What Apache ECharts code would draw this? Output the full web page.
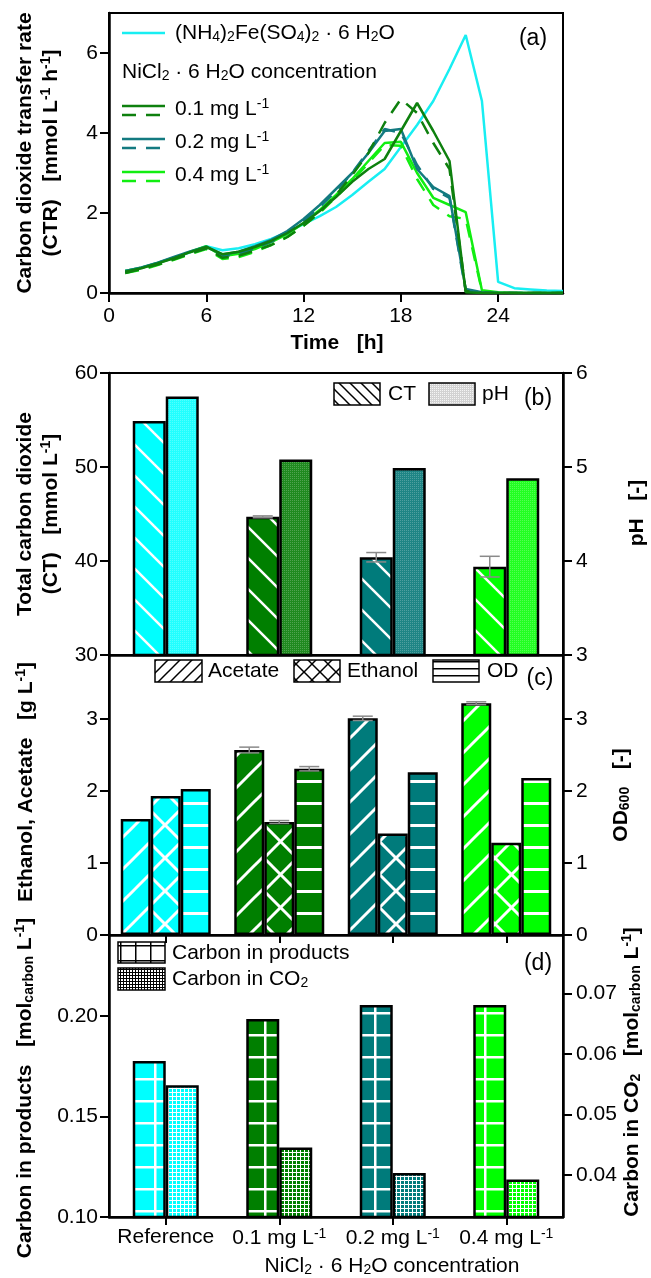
<!DOCTYPE html>
<html><head><meta charset="utf-8">
<script src="https://cdn.jsdelivr.net/npm/echarts@6/dist/echarts.min.js"></script>
<style>html,body{margin:0;padding:0;background:#fff}#c{width:651px;height:1278px}</style>
</head><body><div id="c"></div>
<script>
// ---------------- data ----------------
const hours = [1,2,3,4,5,6,7,8,9,10,11,12,13,14,15,16,17,18,19,20,21,22,23,24,25,26,27,28];
const ctrReference = [0.55,0.63,0.75,0.88,1.02,1.17,1.07,1.12,1.22,1.35,1.52,1.72,1.92,2.15,2.45,2.78,3.1,3.65,4.2,4.8,5.6,6.45,4.8,0.28,0.12,0.09,0.06,0.05];
const ctr01 = [0.53,0.62,0.74,0.87,1.02,1.15,0.97,1.03,1.15,1.3,1.5,1.75,2.05,2.4,2.78,3.1,3.35,4.05,4.75,4.05,3.3,0.02,0,0,0,0,0,0];
const ctr01b = [0.5,0.6,0.71,0.84,0.98,1.12,0.88,0.93,1.06,1.2,1.4,1.68,2.02,2.45,2.95,3.5,4.25,4.85,4.5,3.75,3.1,0.05,0,0,0,0,0,0];
const ctr02 = [0.55,0.64,0.76,0.9,1.04,1.16,0.96,1.03,1.17,1.33,1.55,1.85,2.2,2.6,3.0,3.5,4.05,4.1,3.1,2.65,2.42,0.1,0.02,0,0,0,0,0];
const ctr02b = [0.52,0.61,0.73,0.86,1.0,1.12,0.92,0.98,1.12,1.28,1.5,1.8,2.15,2.55,3.0,3.55,4.1,4.0,3.2,2.6,2.38,0.05,0,0,0,0,0,0];
const ctr04 = [0.55,0.63,0.75,0.88,1.03,1.17,0.92,0.98,1.1,1.27,1.47,1.75,2.08,2.45,2.85,3.3,3.75,3.78,3.0,2.38,2.2,2.02,0.07,0.02,0,0,0,0];
const ctr04b = [0.5,0.58,0.7,0.83,0.97,1.1,0.85,0.9,1.03,1.2,1.4,1.68,2.0,2.4,2.8,3.25,3.7,3.68,2.85,2.2,1.92,1.85,0.05,0,0,0,0,0];

const categories = ['Reference','0.1 mg L-1','0.2 mg L-1','0.4 mg L-1'];
const ctValues = [54.9,44.7,40.4,39.4];
const ctErrors = [0,0.1,0.5,1.1];
const phValues = [5.75,5.08,4.99,4.88];
const acetateValues = [1.61,2.57,3.01,3.22];
const acetateErrors = [0,0.04,0.03,0.02];
const ethanolValues = [1.93,1.57,1.41,1.28];
const ethanolErrors = [0,0.02,0,0];
const odValues = [2.03,2.31,2.26,2.18];
const odErrors = [0,0.03,0,0];
const carbonProducts = [0.1776,0.1985,0.2055,0.2055];
const carbonCO2 = [0.0548,0.0445,0.0403,0.0392];

const ticksTime = [0,6,12,18,24];
const ticksCTR = [0,2,4,6];
const ticksConc = [0,1,2,3];
const ticksProducts = [0.10,0.15,0.20];
const ticksCO2 = [0.04,0.05,0.06,0.07];

// ---------------- styles ----------------
const FONT = 'Liberation Sans, Arial, Helvetica, sans-serif';
const FS = 21;
const groupColors = ['#00FFFF','#007F00','#007B7B','#00FF00'];
const phColors = ['#22FFFF','#1F8A1F','#1E8585','#22FF22'];
const lineColors = {ref:'#18EEF2', c01:'#0E800E', c02:'#137A80', c04:'#11EE11'};

function tile(P, bg, draw) {
  const c = document.createElement('canvas'); c.width = P; c.height = P;
  const g = c.getContext('2d');
  if (bg) { g.fillStyle = bg; g.fillRect(0, 0, P, P); }
  draw(g, P);
  return {image: c, repeat: 'repeat'};
}
function diag(g, P, dir) {
  for (let k = -1; k <= 1; k++) {
    g.beginPath();
    if (dir > 0) { g.moveTo(-1, P + 1 + k * P); g.lineTo(P + 1, -1 + k * P); }
    else { g.moveTo(-1, -1 + k * P); g.lineTo(P + 1, P + 1 + k * P); }
    g.stroke();
  }
}
function fill(kind, bg, fg, P, lw) {
  return tile(P, bg, (g, P) => {
    g.strokeStyle = fg; g.fillStyle = fg; g.lineWidth = lw;
    if (kind === 'back') diag(g, P, -1);
    else if (kind === 'fwd') diag(g, P, 1);
    else if (kind === 'cross') { diag(g, P, 1); diag(g, P, -1); }
    else if (kind === 'hline') g.fillRect(0, Math.round(P / 2 - lw / 2), P, lw);
    else if (kind === 'grid') { g.fillRect(0, 0, P, lw); g.fillRect(0, 0, lw, P); }
    else if (kind === 'dots') { g.fillRect(0, 0, 1, 1); }
  });
}

const W = '#FFFFFF';
const BORDER = {borderColor: '#000', borderWidth: 2.5};

function barData(values, colors, kind, P, lw) {
  return values.map((v, i) => ({value: v, itemStyle: Object.assign({color: fill(kind, colors[i], W, P, lw)}, BORDER)}));
}
function errSeries(xi, yi, values, errors, offset) {
  return {
    type: 'custom', xAxisIndex: xi, yAxisIndex: yi, z: 10, silent: true,
    data: values.map((v, i) => [i, v, errors[i]]),
    encode: {x: 0, y: 1},
    renderItem(params, api) {
      const e = api.value(2);
      if (!e) return null;
      const i = api.value(0), v = api.value(1);
      const top = api.coord([i, v + e]), bot = api.coord([i, v - e]);
      const x = top[0] + offset, cap = 10;
      const st = {stroke: '#8a8a8a', lineWidth: 1.5};
      return {type: 'group', children: [
        {type: 'line', shape: {x1: x, y1: top[1], x2: x, y2: bot[1]}, style: st},
        {type: 'line', shape: {x1: x - cap, y1: top[1], x2: x + cap, y2: top[1]}, style: st},
        {type: 'line', shape: {x1: x - cap, y1: bot[1], x2: x + cap, y2: bot[1]}, style: st}
      ]};
    }
  };
}

const richN = {
  s: {fontSize: 14, fontFamily: FONT, padding: [9, 0, 0, 0], verticalAlign: 'bottom', fill: '#000', color: '#000'},
  p: {fontSize: 14, fontFamily: FONT, padding: [0, 0, 9, 0], verticalAlign: 'top', fill: '#000', color: '#000'}
};
const richB = {
  s: {fontSize: 14, fontFamily: FONT, fontWeight: 'bold', padding: [9, 0, 0, 0], verticalAlign: 'bottom', fill: '#000'},
  p: {fontSize: 14, fontFamily: FONT, fontWeight: 'bold', padding: [0, 0, 9, 0], verticalAlign: 'top', fill: '#000'}
};

function txt(x, y, text, opt) {
  opt = opt || {};
  const bold = !!opt.bold;
  return {
    type: 'text', x: x, y: y, rotation: opt.rot ? Math.PI / 2 : 0, z: 100,
    style: {
      text: text, fill: '#000',
      fontSize: opt.size || FS, fontFamily: FONT, fontWeight: bold ? 'bold' : 'normal',
      align: opt.align || 'center', verticalAlign: 'middle',
      textAlign: opt.align || 'center', textVerticalAlign: 'middle',
      rich: bold ? richB : richN
    }
  };
}
function legLine(x1, x2, y, color, dashed) {
  return {type: 'line', z: 100, shape: {x1: x1, y1: y, x2: x2, y2: y},
    style: {stroke: color, lineWidth: 2.5, lineDash: dashed ? [14, 10] : null}};
}
function legBox(x, y, w, h, f) {
  return {type: 'rect', z: 100, shape: {x: x, y: y, width: w, height: h},
    style: {fill: f, stroke: '#000', lineWidth: 1.5}};
}

function valueAxis(gi, min, max, ticks, pos, fmt) {
  return {
    type: 'value', gridIndex: gi, min: min, max: max, position: pos || 'left',
    axisLine: {show: true, lineStyle: {color: '#000', width: 2.5}},
    axisTick: {show: true, inside: false, length: 9, lineStyle: {color: '#000', width: 2}, customValues: ticks},
    axisLabel: {show: true, customValues: ticks, color: '#000', fontSize: FS, fontFamily: FONT, margin: pos === 'right' ? 13 : 11,
      formatter: fmt || (v => String(v))},
    splitLine: {show: false}
  };
}
function catAxis(gi, showTicks, showLabels) {
  return {
    type: 'category', gridIndex: gi, data: categories, boundaryGap: true,
    axisLine: {show: true, lineStyle: {color: '#000', width: 2.5}},
    axisTick: {show: showTicks, interval: 0, alignWithLabel: true, inside: false, length: 8, lineStyle: {color: '#000', width: 2}},
    axisLabel: {show: showLabels, interval: 0, hideOverlap: false, color: '#000', fontSize: FS, fontFamily: FONT, margin: 10,
      formatter: v => v.replace(/L-1$/, 'L{p|-1}'), rich: richN},
    splitLine: {show: false}
  };
}
function lineSeries(values, color, dashed) {
  return {
    type: 'line', xAxisIndex: 0, yAxisIndex: 0, showSymbol: false, symbol: 'none',
    data: hours.map((h, i) => [h, values[i]]),
    lineStyle: {color: color, width: 2.5, type: dashed ? [14, 10] : 'solid'},
    itemStyle: {color: color}
  };
}

const gridStyle = {show: true, borderColor: '#000', borderWidth: 2, backgroundColor: 'transparent'};
const BW2 = 33, BW3 = 30;
const plainTicks = {show: true, length: 9, lineStyle: {color: '#000', width: 2}};

const option = {
  animation: false,
  backgroundColor: '#fff',
  textStyle: {fontFamily: FONT, color: '#000'},
  grid: [
    Object.assign({left: 109, top: 13, width: 454, height: 280}, gridStyle),
    Object.assign({left: 109, top: 373, width: 454, height: 282}, gridStyle),
    Object.assign({left: 109, top: 655, width: 454, height: 280}, gridStyle),
    Object.assign({left: 109, top: 935, width: 454, height: 282}, gridStyle)
  ],
  xAxis: [
    Object.assign(valueAxis(0, 0, 28, ticksTime, 'bottom'), {axisLabel: {customValues: ticksTime, color: '#000', fontSize: FS, fontFamily: FONT, margin: 13}}),
    catAxis(1, false, false),
    catAxis(2, true, false),
    catAxis(3, true, true)
  ],
  yAxis: [
    valueAxis(0, 0, 7, ticksCTR),
    Object.assign(valueAxis(1, 30, 60, null), {interval: 10, axisTick: plainTicks, axisLabel: {color: '#000', fontSize: FS, fontFamily: FONT, margin: 11}}),
    Object.assign(valueAxis(1, 3, 6, null, 'right'), {interval: 1, axisTick: plainTicks, axisLabel: {color: '#000', fontSize: FS, fontFamily: FONT, margin: 13}}),
    valueAxis(2, 0, 3.89, ticksConc),
    valueAxis(2, 0, 3.89, ticksConc, 'right'),
    valueAxis(3, 0.10, 0.2403, ticksProducts, 'left', v => v.toFixed(2)),
    valueAxis(3, 0.033, 0.0797, ticksCO2, 'right', v => v.toFixed(2))
  ],
  series: [
    lineSeries(ctrReference, lineColors.ref, false),
    lineSeries(ctr04, lineColors.c04, false),
    lineSeries(ctr04b, lineColors.c04, true),
    lineSeries(ctr02, lineColors.c02, false),
    lineSeries(ctr02b, lineColors.c02, true),
    lineSeries(ctr01, lineColors.c01, false),
    lineSeries(ctr01b, lineColors.c01, true),
    // (b)
    {type: 'bar', xAxisIndex: 1, yAxisIndex: 1, barWidth: BW2, barGap: '0%', data: barData(ctValues, groupColors, 'back', 31, 2.5)},
    {type: 'bar', xAxisIndex: 1, yAxisIndex: 2, barWidth: BW2, barGap: '0%',
      data: phValues.map((v, i) => ({value: v, itemStyle: Object.assign({color: fill('dots', phColors[i], 'rgba(255,255,255,0.22)', 2, 1)}, BORDER)}))},
    errSeries(1, 1, ctValues, ctErrors, -BW2 / 2),
    // (c)
    {type: 'bar', xAxisIndex: 2, yAxisIndex: 3, barWidth: BW3, barGap: '0%', data: barData(acetateValues, groupColors, 'fwd', 32, 3)},
    {type: 'bar', xAxisIndex: 2, yAxisIndex: 3, barWidth: BW3, barGap: '0%', data: barData(ethanolValues, groupColors, 'cross', 33, 3)},
    {type: 'bar', xAxisIndex: 2, yAxisIndex: 4, barWidth: BW3, barGap: '0%', data: barData(odValues, groupColors, 'hline', 22, 3)},
    errSeries(2, 3, acetateValues, acetateErrors, -BW3),
    errSeries(2, 3, ethanolValues, ethanolErrors, 0),
    errSeries(2, 4, odValues, odErrors, BW3),
    // (d)
    {type: 'bar', xAxisIndex: 3, yAxisIndex: 5, barWidth: BW2, barGap: '0%', data: barData(carbonProducts, groupColors, 'grid', 22, 2.5)},
    {type: 'bar', xAxisIndex: 3, yAxisIndex: 6, barWidth: BW2, barGap: '0%', data: barData(carbonCO2, groupColors, 'grid', 4, 1)}
  ],
  graphic: {elements: [
    // panel (a) legend
    legLine(122, 165, 33, lineColors.ref, false),
    txt(175, 33, '(NH{s|4}){s|2}Fe(SO{s|4}){s|2} · 6 H{s|2}O', {align: 'left'}),
    txt(122, 72, 'NiCl{s|2} · 6 H{s|2}O concentration', {align: 'left'}),
    legLine(122, 165, 106, lineColors.c01, false), legLine(122, 165, 115, lineColors.c01, true),
    txt(175, 109, '0.1 mg L{p|-1}', {align: 'left'}),
    legLine(122, 165, 139, lineColors.c02, false), legLine(122, 165, 148, lineColors.c02, true),
    txt(175, 142, '0.2 mg L{p|-1}', {align: 'left'}),
    legLine(122, 165, 172, lineColors.c04, false), legLine(122, 165, 181, lineColors.c04, true),
    txt(175, 175, '0.4 mg L{p|-1}', {align: 'left'}),
    txt(533, 39, '(a)', {size: 23}),
    // panel (b) legend
    legBox(334, 383, 46, 22, fill('back', W, '#000', 11, 1.5)),
    txt(388, 394, 'CT', {align: 'left'}),
    legBox(429, 383, 46, 22, fill('dots', '#d2d2d2', '#f4f4f4', 2, 1)),
    txt(482, 394, 'pH', {align: 'left'}),
    txt(538, 399, '(b)', {size: 23}),
    // panel (c) legend
    legBox(155, 660, 47, 22, fill('fwd', W, '#000', 12, 1.5)),
    txt(208, 671, 'Acetate', {align: 'left'}),
    legBox(294, 660, 46, 22, fill('cross', W, '#000', 16, 1.5)),
    txt(347, 671, 'Ethanol', {align: 'left'}),
    legBox(433, 660, 46, 22, fill('hline', W, '#000', 7, 1.5)),
    txt(487, 671, 'OD', {align: 'left'}),
    txt(540, 679, '(c)', {size: 23}),
    // panel (d) legend
    legBox(118, 942, 47, 21, fill('grid', W, '#000', 15, 1.5)),
    txt(172, 953, 'Carbon in products', {align: 'left'}),
    legBox(118, 968, 47, 22, fill('grid', W, '#000', 3, 1)),
    txt(172, 979, 'Carbon in CO{s|2}', {align: 'left'}),
    txt(538, 964, '(d)', {size: 23}),
    // axis titles
    txt(25, 153, 'Carbon dioxide transfer rate', {bold: true, rot: true}),
    txt(51, 153, '(CTR)   [mmol L{p|-1} h{p|-1}]', {bold: true, rot: true}),
    txt(337, 343, 'Time   [h]', {bold: true}),
    txt(25, 514, 'Total carbon dioxide', {bold: true, rot: true}),
    txt(51, 514, '(CT)   [mmol L{p|-1}]', {bold: true, rot: true}),
    txt(637, 513, 'pH   [-]', {bold: true, rot: true}),
    txt(26, 782, 'Ethanol, Acetate   [g L{p|-1}]', {bold: true, rot: true}),
    txt(621, 795, 'OD{s|600}   [-]', {bold: true, rot: true}),
    txt(25, 1088, 'Carbon in products   [mol{s|carbon} L{p|-1}]', {bold: true, rot: true}),
    txt(632, 1072, 'Carbon in CO{s|2}   [mol{s|carbon} L{p|-1}]', {bold: true, rot: true}),
    txt(392, 1266, 'NiCl{s|2} · 6 H{s|2}O concentration', {})
  ]}
};

const chart = echarts.init(document.getElementById('c'), null, {renderer: 'canvas', width: 651, height: 1278});
chart.setOption(option);
</script>
</body></html>
